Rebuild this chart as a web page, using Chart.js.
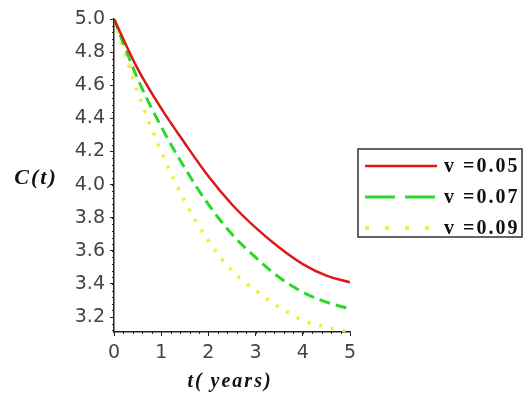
<!DOCTYPE html>
<html lang="en">
  <head>
    <meta charset="UTF-8" />
    <title>C(t)</title>
    <style>
      body { margin: 0; background: #fff; }
    </style>
  </head>
  <body>
    <canvas id="myChart" width="524" height="396"></canvas>

    <script src="https://cdn.jsdelivr.net/npm/chart.js"></script>

    <script>
      // t in years
      const years = [0, 0.5, 1, 1.5, 2, 2.5, 3, 3.5, 4, 4.5, 5];
      const c005 = [5.0, 4.70, 4.46, 4.25, 4.05, 3.88, 3.74, 3.62, 3.52, 3.45, 3.41];
      const c007 = [5.0, 4.64, 4.35, 4.10, 3.88, 3.70, 3.56, 3.44, 3.35, 3.29, 3.25];
      const c009 = [5.0, 4.56, 4.20, 3.90, 3.66, 3.48, 3.36, 3.26, 3.18, 3.14, 3.11];
      const seriesNames = ["v =0.05", "v =0.07", "v =0.09"];
      const xTicks = [0, 1, 2, 3, 4, 5];
      const yTicks = [3.2, 3.4, 3.6, 3.8, 4.0, 4.2, 4.4, 4.6, 4.8, 5.0];

      const pts = (ys) => years.map((t, i) => ({ x: t, y: ys[i] }));

      const tickFont = { family: "DejaVu Sans", size: 19 };
      const legendDash = [[], [30, 10], [4, 16]];
      const legendRows = [166, 197, 228];

      // small ticks between the labelled ones, axis titles, boxed legend
      const extras = {
        id: "extras",
        afterDraw(chart) {
          const ctx = chart.ctx;
          const xs = chart.scales.x;
          const ys = chart.scales.y;
          ctx.save();
          ctx.strokeStyle = "#222";
          ctx.lineWidth = 1;
          ctx.beginPath();
          for (let v = 3.12; v <= 5.0; v += 0.04) {
            const py = Math.round(ys.getPixelForValue(v)) + 0.5;
            ctx.moveTo(xs.left - 2, py);
            ctx.lineTo(xs.left, py);
          }
          for (let v = 0.2; v < 5; v += 0.2) {
            const px = Math.round(xs.getPixelForValue(v)) + 0.5;
            ctx.moveTo(px, ys.bottom);
            ctx.lineTo(px, ys.bottom + 2);
          }
          ctx.stroke();

          ctx.fillStyle = "#111";
          ctx.textAlign = "center";
          ctx.textBaseline = "middle";
          ctx.letterSpacing = "2px";
          ctx.font = "italic bold 22px 'Liberation Serif'";
          ctx.fillText("C(t)", 36, 178);
          ctx.font = "italic bold 20px 'Liberation Serif'";
          ctx.fillText("t( years)", (xs.left + xs.right) / 2 - 2, 382);

          // legend
          ctx.strokeStyle = "#333";
          ctx.lineWidth = 1.5;
          ctx.strokeRect(358, 149, 164, 88);
          chart.data.datasets.forEach((ds, i) => {
            const y = legendRows[i];
            ctx.beginPath();
            ctx.strokeStyle = ds.borderColor;
            ctx.lineWidth = ds.borderWidth;
            ctx.setLineDash(legendDash[i]);
            ctx.moveTo(365, y);
            ctx.lineTo(437, y);
            ctx.stroke();
            ctx.setLineDash([]);
            ctx.fillStyle = "#111";
            ctx.font = "bold 20px 'Liberation Serif'";
            ctx.textAlign = "left";
            ctx.fillText(ds.label, 444, y + 1);
          });
          ctx.restore();
        },
      };

      new Chart(document.getElementById("myChart"), {
        type: "line",
        data: {
          datasets: [
            {
              label: seriesNames[0],
              data: pts(c005),
              borderColor: "#dc1818",
              borderWidth: 2.5,
              pointRadius: 0,
              cubicInterpolationMode: "monotone",
            },
            {
              label: seriesNames[1],
              data: pts(c007),
              borderColor: "#2ad82a",
              borderWidth: 3,
              borderDash: [11, 6],
              pointRadius: 0,
              cubicInterpolationMode: "monotone",
            },
            {
              label: seriesNames[2],
              data: pts(c009),
              borderColor: "#f2ee2a",
              borderWidth: 3.5,
              borderDash: [3, 9],
              pointRadius: 0,
              cubicInterpolationMode: "monotone",
            },
          ],
        },
        options: {
          responsive: false,
          animation: false,
          layout: { padding: { left: 0, top: 19, right: 174, bottom: 0 } },
          plugins: { legend: { display: false }, tooltip: { enabled: false } },
          scales: {
            x: {
              type: "linear",
              min: 0,
              max: 5,
              afterBuildTicks: (s) => { s.ticks = xTicks.map((v) => ({ value: v })); },
              afterFit: (s) => { s.height = 64; },
              ticks: { font: tickFont, color: "#444", padding: 6, maxRotation: 0 },
              grid: { drawOnChartArea: false, tickLength: 4, color: "#222" },
              border: { color: "#222", width: 1.5 },
            },
            y: {
              min: 3.11,
              max: 5.0,
              afterBuildTicks: (s) => { s.ticks = yTicks.map((v) => ({ value: v })); },
              afterFit: (s) => { s.width = 114; },
              ticks: {
                font: tickFont,
                color: "#444",
                padding: 5,
                callback: (v) => v.toFixed(1),
              },
              grid: { drawOnChartArea: false, tickLength: 4, color: "#222" },
              border: { color: "#222", width: 1.5 },
            },
          },
        },
        plugins: [extras],
      });
    </script>
  </body>
</html>
